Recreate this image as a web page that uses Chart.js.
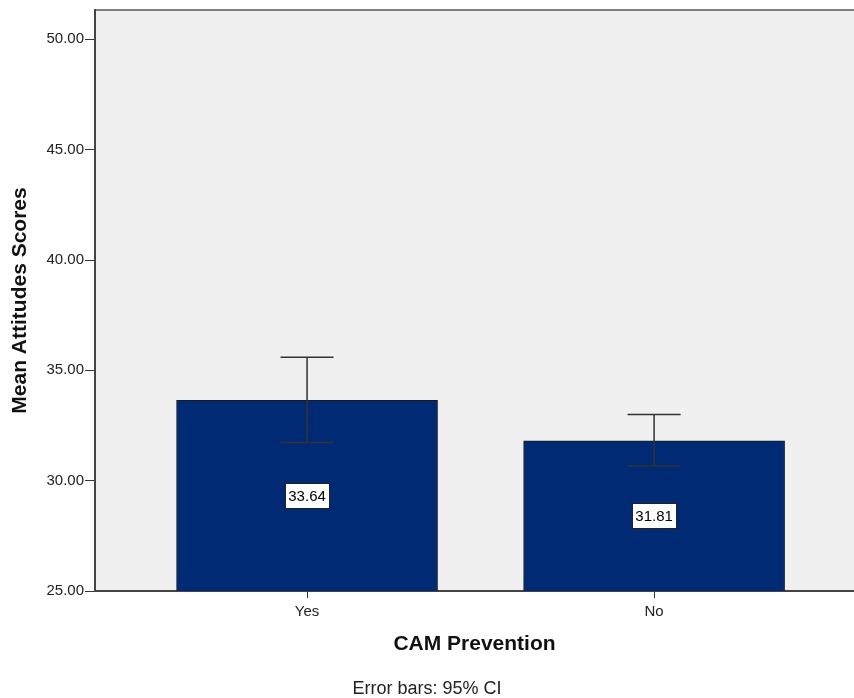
<!DOCTYPE html>
<html>
<head>
<meta charset="utf-8">
<script src="https://cdn.jsdelivr.net/npm/chart.js@4.4.0/dist/chart.umd.min.js"></script>
<style>
  html, body { margin: 0; padding: 0; background: #fff; }
</style>
</head>
<body>
<canvas id="chart" width="854" height="698"></canvas>
<script>
// bar means with 95% CI
const categories = ['Yes', 'No'];
const means = [33.64, 31.81];
const ciLow = [31.73, 30.66];
const ciHigh = [35.59, 33.00];
const yTicks = [25, 30, 35, 40, 45, 50];

const FONT = '"Liberation Sans", Arial, sans-serif';

const plotBg = {
    id: 'plotBg',
    beforeDraw(chart) {
        const { ctx, chartArea: a } = chart;
        ctx.save();
        ctx.fillStyle = '#f0f0f0';
        ctx.fillRect(a.left, a.top, a.right - a.left, a.bottom - a.top);
        ctx.strokeStyle = '#808080';
        ctx.lineWidth = 2;
        ctx.beginPath();
        ctx.moveTo(a.left, a.top);
        ctx.lineTo(a.right, a.top);
        ctx.stroke();
        ctx.restore();
    }
};

const errorBars = {
    id: 'errorBars',
    afterDatasetsDraw(chart) {
        const { ctx } = chart;
        const y = chart.scales.y;
        const meta = chart.getDatasetMeta(0);
        ctx.save();
        ctx.strokeStyle = '#333';
        ctx.lineWidth = 1.5;
        meta.data.forEach((bar, i) => {
            const top = y.getPixelForValue(ciHigh[i]);
            const bot = y.getPixelForValue(ciLow[i]);
            const half = 26.5;
            ctx.beginPath();
            ctx.moveTo(bar.x, top);
            ctx.lineTo(bar.x, bot);
            ctx.moveTo(bar.x - half, top);
            ctx.lineTo(bar.x + half, top);
            ctx.moveTo(bar.x - half, bot);
            ctx.lineTo(bar.x + half, bot);
            ctx.stroke();
        });

        // value boxes in middle of bars
        ctx.font = '15px ' + FONT;
        ctx.textAlign = 'center';
        ctx.textBaseline = 'middle';
        const basePx = y.getPixelForValue(y.min);
        meta.data.forEach((bar, i) => {
            const cy = (y.getPixelForValue(means[i]) + basePx) / 2;
            const w = 44, h = 25;
            ctx.fillStyle = '#fff';
            ctx.fillRect(bar.x - w / 2, cy - h / 2, w, h);
            ctx.strokeStyle = '#222';
            ctx.lineWidth = 1;
            ctx.strokeRect(Math.round(bar.x - w / 2) + 0.5, Math.round(cy - h / 2) + 0.5, w, h);
            ctx.fillStyle = '#000';
            ctx.fillText(means[i].toFixed(2), bar.x, cy + 1);
        });
        ctx.restore();
    }
};

new Chart(document.getElementById('chart'), {
    type: 'bar',
    data: {
        datasets: [{
            data: means.map((m, i) => ({ x: i, y: m })),
            backgroundColor: '#002b74',
            borderColor: '#1a1a1a',
            borderWidth: 1,
            barThickness: 261
        }]
    },
    options: {
        responsive: false,
        animation: false,
        layout: { padding: { top: 9, left: 0, right: 0, bottom: 0 } },
        plugins: {
            legend: { display: false },
            tooltip: { enabled: false },
            title: {
                display: true,
                position: 'bottom',
                text: 'Error bars: 95% CI',
                color: '#222',
                font: { family: FONT, size: 18, weight: 'normal', lineHeight: 1 },
                padding: 0
            }
        },
        scales: {
            x: {
                type: 'linear',
                offset: false,
                min: -0.611,
                max: 1.576,
                afterBuildTicks: s => { s.ticks = categories.map((c, i) => ({ value: i })); },
                afterFit: s => { s.height = 89; },
                ticks: {
                    autoSkip: false,
                    padding: 5,
                    color: '#222',
                    font: { family: FONT, size: 15 },
                    callback: v => categories[v]
                },
                grid: { offset: false, drawOnChartArea: false, drawTicks: true, tickLength: 7, color: '#333' },
                border: { display: true, color: '#444', width: 2 },
                title: {
                    display: true,
                    text: 'CAM Prevention',
                    color: '#111',
                    font: { family: FONT, size: 21, weight: 'bold', lineHeight: 1 },
                    padding: { top: 0, bottom: 25 }
                }
            },
            y: {
                min: 25,
                max: 51.33,
                afterBuildTicks: s => { s.ticks = yTicks.map(v => ({ value: v })); },
                afterFit: s => { s.width = 95; },
                ticks: {
                    padding: 1,
                    color: '#222',
                    font: { family: FONT, size: 15 },
                    callback: v => v.toFixed(2)
                },
                grid: { drawOnChartArea: false, drawTicks: true, tickLength: 10, color: '#333' },
                border: { display: true, color: '#444', width: 2 },
                title: {
                    display: true,
                    text: 'Mean Attitudes Scores',
                    color: '#111',
                    font: { family: FONT, size: 21, weight: 'bold', lineHeight: 1 },
                    padding: { top: 10, bottom: 0 }
                }
            }
        }
    },
    plugins: [plotBg, errorBars]
});
</script>
</body>
</html>
